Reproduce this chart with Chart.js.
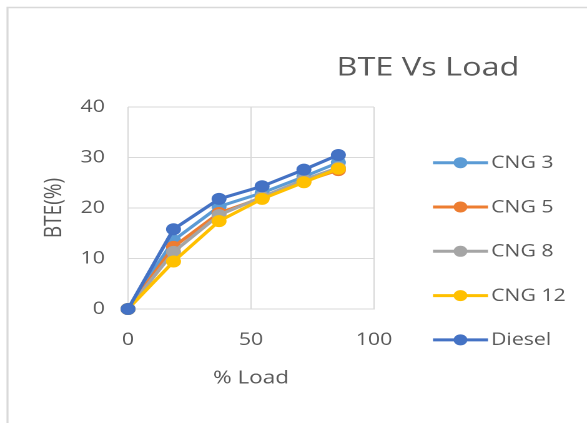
<!DOCTYPE html>
<html>
<head>
<meta charset="utf-8">
<script src="https://cdn.jsdelivr.net/npm/chart.js@4"></script>
<style>
  html, body { margin: 0; padding: 0; background: #fff; }
  #wrap { width: 470px; height: 423px; transform: scaleX(1.2489); transform-origin: 0 0; }
</style>
</head>
<body>
<div id="wrap"><canvas id="c" width="470" height="423"></canvas></div>
<script>
// Engine load (%) and brake thermal efficiency (%) per fuel
const loadPct = [0, 18.5, 37, 54.5, 71.5, 85.5];
const cng3   = [0, 13.6, 20.3, 23.0, 26.2, 29.0];
const cng5   = [0, 12.3, 19.0, 22.0, 25.3, 27.5];
const cng8   = [0, 11.3, 18.6, 22.2, 25.6, 28.0];
const cng12  = [0, 9.4, 17.4, 21.8, 25.1, 27.8];
const diesel = [0, 15.8, 21.8, 24.3, 27.6, 30.5];

const seriesNames  = ['CNG 3', 'CNG 5', 'CNG 8', 'CNG 12', 'Diesel'];
const seriesColors = ['#5b9bd5', '#ed7d31', '#a5a5a5', '#ffc000', '#4472c4'];
const seriesValues = [cng3, cng5, cng8, cng12, diesel];

const xTicks = [0, 50, 100];
const yTicks = [0, 10, 20, 30, 40];

const chartTitle = 'BTE Vs Load';
const xTitle = '% Load';
const yTitle = 'BTE(%)';

const TEXT = '#595959';
const GRID = '#d9d9d9';
const FONT = "'Open Sans', sans-serif";

Chart.defaults.font.family = FONT;
Chart.defaults.color = TEXT;

const datasets = seriesNames.map((name, i) => ({
  label: name,
  data: loadPct.map((x, j) => ({ x: x, y: seriesValues[i][j] })),
  borderColor: seriesColors[i],
  backgroundColor: seriesColors[i],
  pointBackgroundColor: seriesColors[i],
  pointBorderColor: seriesColors[i],
  borderWidth: 3,
  pointRadius: 5.5,
  pointBorderWidth: 1,
  tension: 0,
  clip: false,
  // later series sit on top
  order: seriesNames.length - 1 - i
}));

// Frame, title and side legend
const decorations = {
  id: 'decorations',
  beforeDraw(chart) {
    const ctx = chart.ctx;
    ctx.save();
    ctx.fillStyle = '#fff';
    ctx.fillRect(0, 0, chart.width, chart.height);
    ctx.strokeStyle = GRID;
    ctx.lineWidth = 1.6;
    ctx.beginPath();
    ctx.moveTo(6, chart.height);
    ctx.lineTo(6, 7.5);
    ctx.lineTo(chart.width, 7.5);
    ctx.stroke();
    ctx.restore();
  },
  afterDraw(chart) {
    const ctx = chart.ctx;
    ctx.save();
    ctx.fillStyle = TEXT;
    ctx.font = '26px ' + FONT;
    ctx.textAlign = 'center';
    ctx.textBaseline = 'middle';
    ctx.fillText(chartTitle, 342.7, 68);

    const lx0 = 346.7, lx1 = 390.7, top = 162.7, step = 44.3;
    ctx.font = '17px ' + FONT;
    ctx.textAlign = 'left';
    chart.data.datasets.forEach((ds, i) => {
      const y = top + i * step;
      ctx.strokeStyle = ds.borderColor;
      ctx.lineWidth = 3;
      ctx.beginPath();
      ctx.moveTo(lx0, y);
      ctx.lineTo(lx1, y);
      ctx.stroke();
      ctx.fillStyle = ds.borderColor;
      ctx.beginPath();
      ctx.arc((lx0 + lx1) / 2, y, 5.5, 0, Math.PI * 2);
      ctx.fill();
      ctx.fillStyle = TEXT;
      ctx.fillText(ds.label, lx1 + 2.5, y + 0.5);
    });
    ctx.restore();
  }
};

new Chart(document.getElementById('c'), {
  type: 'line',
  data: { datasets },
  options: {
    responsive: false,
    animation: false,
    devicePixelRatio: 2,
    layout: { padding: { top: 107, right: 170.5, bottom: 0, left: 0 } },
    plugins: { legend: { display: false }, title: { display: false }, tooltip: { enabled: false } },
    scales: {
      x: {
        type: 'linear',
        min: 0, max: 100,
        afterBuildTicks: s => { s.ticks = xTicks.map(v => ({ value: v })); },
        afterFit: s => { s.height = 114; },
        grid: { color: GRID, lineWidth: 1, drawTicks: false },
        border: { color: GRID, width: 1 },
        ticks: { padding: 21, font: { size: 17 }, color: TEXT, maxRotation: 0 },
        title: { display: true, text: xTitle, font: { size: 18 }, color: TEXT, padding: { top: 0, bottom: 34 } }
      },
      y: {
        type: 'linear',
        min: 0, max: 40,
        afterBuildTicks: s => { s.ticks = yTicks.map(v => ({ value: v })); },
        afterFit: s => { s.width = 102.5; },
        grid: { color: GRID, lineWidth: 1, drawTicks: false },
        border: { display: false },
        ticks: { padding: 18.5, font: { size: 17 }, color: TEXT },
        title: { display: true, text: yTitle, font: { size: 19 }, color: TEXT, padding: { top: 32, bottom: 0 } }
      }
    }
  },
  plugins: [decorations]
});
</script>
</body>
</html>
